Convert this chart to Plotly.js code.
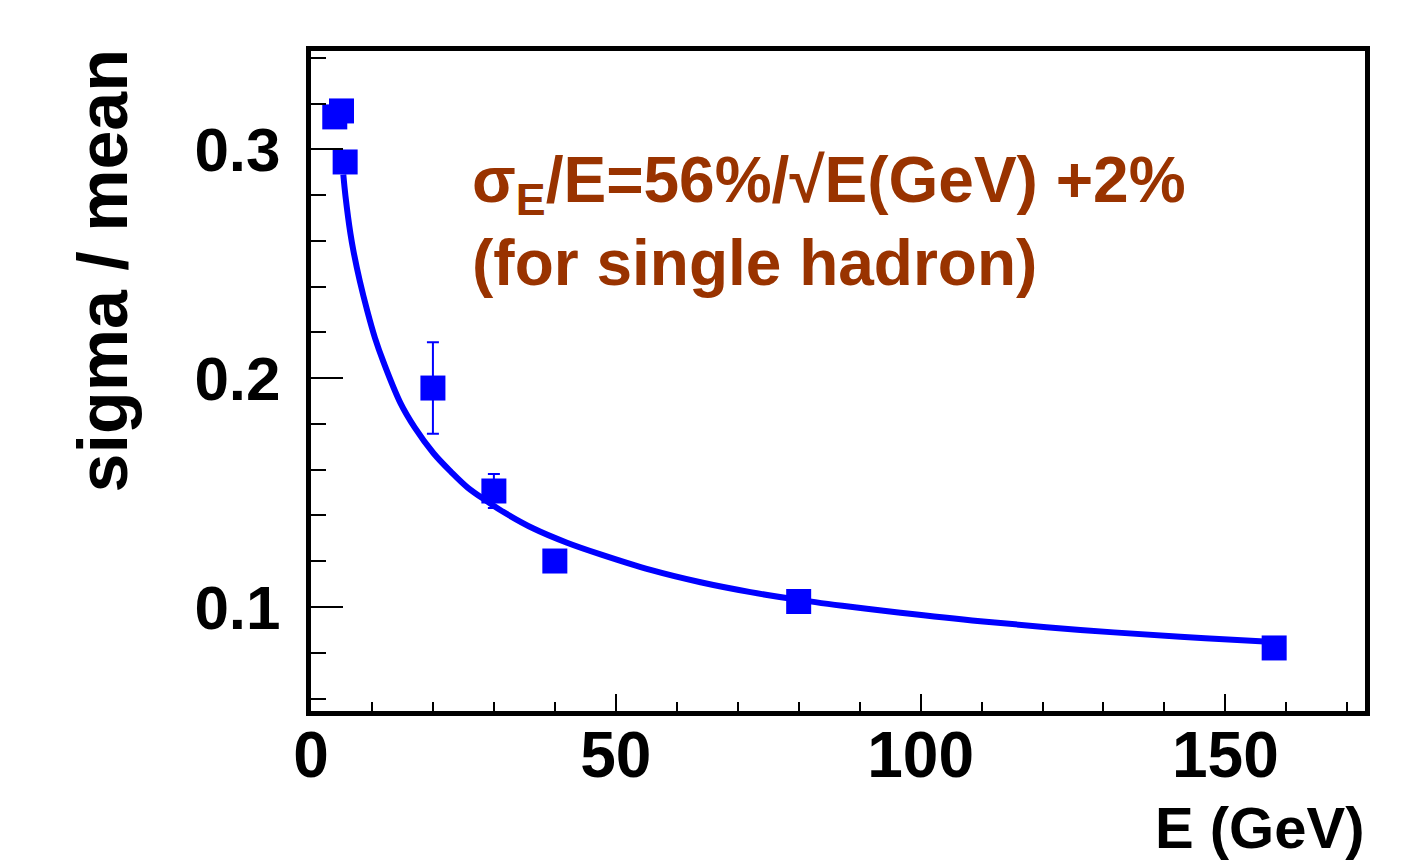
<!DOCTYPE html>
<html>
<head>
<meta charset="utf-8">
<script src="https://cdn.plot.ly/plotly-3.0.1.min.js"></script>
<style>html,body{margin:0;padding:0;background:#fff;}#chart{width:1410px;height:863px;}</style>
</head>
<body>
<div id="chart"></div>
<script>
// Measured points (E in GeV, sigma/mean)
const energy = [3.9, 5.0, 5.6, 20, 30, 40, 80, 158];
const sigmaOverMean = [0.3142, 0.3168, 0.2945, 0.1957, 0.1507, 0.1201, 0.1024, 0.0821];
const sigmaError = [0, 0, 0, 0.020, 0.0074, 0, 0, 0];

// Fit curve
const fitE = [5.3, 5.66, 6.48, 6.97, 8.0, 9.27, 10.5, 11.9, 14.7, 17.0, 20.1, 23.0, 25.7, 29.0, 31.1, 36.5, 42.0, 47.5, 55.7, 63.9, 72.1, 80.3, 88.5, 96.7, 109.8, 126.2, 142.6, 155.7, 158];
const fitSigma = [0.289, 0.2795, 0.263, 0.2555, 0.2425, 0.2290, 0.2175, 0.2070, 0.1890, 0.1785, 0.1672, 0.1590, 0.1522, 0.1460, 0.1423, 0.1343, 0.1281, 0.1230, 0.1162, 0.1108, 0.1065, 0.1030, 0.1001, 0.0975, 0.0938, 0.0900, 0.0870, 0.0850, 0.0847];

const xTickVals = [0, 50, 100, 150];
const yTickVals = [0.1, 0.2, 0.3];
const xTickText = ['0', '50', '100', '150'];
const yTickText = ['0.1', '0.2', '0.3'];

const FONT = '"Liberation Sans", Arial, Helvetica, sans-serif';
const blue = '#0000ff';
const brown = '#993300';

const traces = [
  {
    x: fitE, y: fitSigma, type: 'scatter', mode: 'lines',
    line: {color: blue, width: 6, shape: 'spline', smoothing: 1},
    hoverinfo: 'skip', showlegend: false
  },
  {
    x: energy, y: sigmaOverMean, type: 'scatter', mode: 'markers',
    marker: {symbol: 'square', size: 25, color: blue, line: {width: 0}},
    error_y: {type: 'data', array: sigmaError, visible: true, color: blue, thickness: 2, width: 6},
    showlegend: false
  }
];

const layout = {
  width: 1410, height: 863,
  margin: {l: 311, r: 45, t: 51, b: 152, pad: 0},
  paper_bgcolor: '#ffffff', plot_bgcolor: '#ffffff',
  font: {family: FONT, color: '#000000'},
  showlegend: false,
  xaxis: {
    range: [0, 172.9], showgrid: false, zeroline: false,
    showline: true, linecolor: '#000000', linewidth: 5, mirror: true,
    ticks: 'inside', ticklen: 17, tickwidth: 2, tickcolor: '#000000',
    tickmode: 'array', tickvals: xTickVals, ticktext: xTickText,
    minor: {dtick: 10, tick0: 0, ticks: 'inside', ticklen: 9, tickwidth: 2, tickcolor: '#000000', showgrid: false},
    tickfont: {family: FONT, size: 64, weight: 'bold', color: '#000000'},
    ticklabelstandoff: -16
  },
  yaxis: {
    range: [0.05455, 0.343], showgrid: false, zeroline: false,
    showline: true, linecolor: '#000000', linewidth: 5, mirror: true,
    ticks: 'inside', ticklen: 32, tickwidth: 2, tickcolor: '#000000',
    tickmode: 'array', tickvals: yTickVals, ticktext: yTickText,
    minor: {dtick: 0.02, tick0: 0, ticks: 'inside', ticklen: 15, tickwidth: 2, tickcolor: '#000000', showgrid: false},
    tickfont: {family: FONT, size: 62, weight: 'bold', color: '#000000'},
    ticklabelstandoff: 13
  },
  annotations: [
    {
      xref: 'paper', yref: 'paper', x: 0.1509, y: 0.862, xanchor: 'left', yanchor: 'top',
      align: 'left', showarrow: false,
      text: 'σ<sub>E</sub>/E=56%/√E(GeV) +2%<br>(for single hadron)',
      font: {family: FONT, size: 64, weight: 'bold', color: brown}
    },
    {
      xref: 'paper', yref: 'paper', x: -0.197, y: 0.668, xanchor: 'center', yanchor: 'middle',
      textangle: -90, showarrow: false,
      text: 'sigma / mean',
      font: {family: FONT, size: 70, weight: 'bold', color: '#000000'}
    },
    {
      xref: 'paper', yref: 'paper', x: 1.0019, y: -0.2295, xanchor: 'right', yanchor: 'bottom',
      showarrow: false,
      text: 'E (GeV)',
      font: {family: FONT, size: 58, weight: 'bold', color: '#000000'}
    }
  ]
};

Plotly.newPlot('chart', traces, layout, {staticPlot: true, displayModeBar: false});
</script>
</body>
</html>
